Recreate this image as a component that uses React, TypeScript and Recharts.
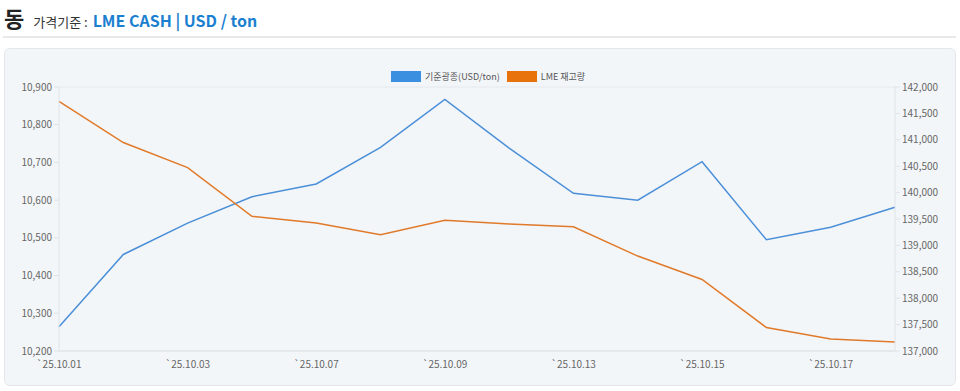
import { CartesianGrid, Line, LineChart, XAxis, YAxis } from "recharts";

const dates = [
  "25.10.01", "25.10.02", "25.10.03", "25.10.06", "25.10.07", "25.10.08", "25.10.09",
  "25.10.10", "25.10.13", "25.10.14", "25.10.15", "25.10.16", "25.10.17", "25.10.20"
];
const cashPrice = [
  10264, 10456, 10539, 10609, 10643, 10740, 10867, 10738, 10618, 10600, 10702, 10495, 10528, 10581
];
const lmeStock = [
  141727, 140948, 140474, 139551, 139424, 139202, 139475, 139405, 139354, 138798, 138355, 137444,
  137228, 137171
];
const leftTicks = [10200, 10300, 10400, 10500, 10600, 10700, 10800, 10900];
const rightTicks = [
  137000, 137500, 138000, 138500, 139000, 139500, 140000, 140500, 141000, 141500, 142000
];
const seriesNames = ["기준광종(USD/ton)", "LME 재고량"];

const blue = "#4a8fd8";
const orange = "#e07a2a";
const font = "'Noto Sans CJK KR', 'Noto Sans', sans-serif";

const data = dates.map((d, i) => ({ date: d, price: cashPrice[i], stock: lmeStock[i] }));

function num(v: number) {
  return v.toLocaleString("en-US");
}

export default function App() {
  const tick = { fontSize: 10, fill: "#666", fontFamily: font };
  return (
    <div style={{ position: "absolute", left: 0, top: 0, width: 960, height: 391, fontFamily: font, background: "#fff" }}>
      <div style={{ position: "absolute", left: 4, top: 1, display: "flex", alignItems: "baseline", whiteSpace: "nowrap" }}>
        <span style={{ fontSize: 22, fontWeight: 700, color: "#222" }}>동</span>
        <span style={{ fontSize: 13, color: "#333", marginLeft: 9 }}>가격기준 :</span>
        <span style={{ fontSize: 16, fontWeight: 700, color: "#1b7fd0", marginLeft: 5 }}>LME CASH | USD / ton</span>
      </div>
      <div style={{ position: "absolute", left: 3, top: 36, width: 953, height: 2, background: "#e9e9e9" }} />
      <div
        style={{
          position: "absolute",
          left: 4,
          top: 48,
          width: 950,
          height: 336,
          background: "#f3f6f9",
          border: "1px solid #e3e7eb",
          borderRadius: 6
        }}
      >
        <div style={{ position: "absolute", left: 386, top: 21, display: "flex", alignItems: "center", fontSize: 9, color: "#555", whiteSpace: "nowrap" }}>
          <span style={{ display: "inline-block", width: 30, height: 11, background: "#3a8fe0" }} />
          <span style={{ marginLeft: 4 }}>{seriesNames[0]}</span>
          <span style={{ display: "inline-block", width: 30, height: 11, background: "#e8720c", marginLeft: 7 }} />
          <span style={{ marginLeft: 4 }}>{seriesNames[1]}</span>
        </div>
        <LineChart width={950} height={336} data={data} margin={{ top: 38, right: 0, bottom: 0, left: 0 }}>
          <CartesianGrid vertical={false} stroke="#e4e8ec" />
          <XAxis
            dataKey="date"
            interval={1}
            tickLine={false}
            axisLine={{ stroke: "#dfe3e7" }}
            height={34}
            tickMargin={4}
            tick={tick}
            tickFormatter={(v: string) => "`" + v}
          />
          <YAxis
            yAxisId="left"
            domain={[10200, 10900]}
            ticks={leftTicks}
            width={54}
            tickSize={5}
            tickLine={{ stroke: "#dfe3e7" }}
            axisLine={{ stroke: "#dfe3e7" }}
            tick={tick}
            tickFormatter={num}
          />
          <YAxis
            yAxisId="right"
            orientation="right"
            domain={[137000, 142000]}
            ticks={rightTicks}
            width={60}
            tickSize={5}
            tickLine={{ stroke: "#dfe3e7" }}
            axisLine={{ stroke: "#dfe3e7" }}
            tick={tick}
            tickFormatter={num}
          />
          <Line yAxisId="left" dataKey="price" name={seriesNames[0]} type="linear" stroke={blue} strokeWidth={1.5} dot={false} isAnimationActive={false} />
          <Line yAxisId="right" dataKey="stock" name={seriesNames[1]} type="linear" stroke={orange} strokeWidth={1.5} dot={false} isAnimationActive={false} />
        </LineChart>
      </div>
    </div>
  );
}
